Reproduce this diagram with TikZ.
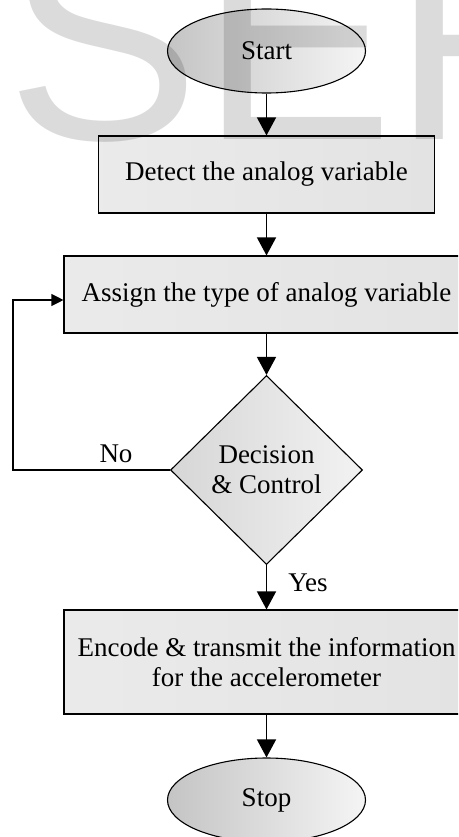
\documentclass[tikz,border=0pt]{standalone}
\usepackage{fontspec}
\setmainfont{Liberation Serif}
\newfontfamily\wmfont{Liberation Sans}
\usetikzlibrary{shapes.geometric,arrows.meta}
\tikzset{
  txt/.style={font=\fontsize{27}{30}\selectfont},
  lbl/.style={txt, inner sep=0pt},
  term/.style={txt, ellipse, draw, line width=1.1pt, minimum width=198pt, minimum height=84pt,
    inner sep=0pt, left color=black!23, right color=black!4},
  procbox/.style={txt, rectangle, draw, line width=1.1pt, inner sep=0pt, align=center,
    left color=black!8, middle color=white, right color=black!11},
  decbox/.style={txt, diamond, draw, line width=1.1pt, inner sep=0pt, align=center,
    minimum width=192pt, minimum height=189pt,
    left color=black!16, right color=black!5},
  flow/.style={line width=1.4pt, -{Triangle[width=19pt,length=18pt]}},
  loopline/.style={line width=1.1pt, -{Triangle[width=12pt,length=12pt]}},
  wm/.style={font=\wmfont\fontsize{290}{290}\selectfont, text=black, text opacity=0.14,
    anchor=base west, inner sep=0pt}
}
\begin{document}
\begin{tikzpicture}[x=1pt,y=-1pt]
\useasboundingbox (0,0) rectangle (458,837);
\clip (0,0) rectangle (458,837);
\fill[white] (0,0) rectangle (458,837);

\node[term] (start) at (266.5,51) {Start};
\node[procbox, minimum width=336pt, minimum height=77pt] (detect) at (266.5,174.5) {Detect the analog variable};
\node[procbox, minimum width=405pt, minimum height=77pt] (assign) at (266.5,294.5) {Assign the type of analog variable};
\node[decbox] (dec) at (266.5,470) {Decision\\\& Control};
\node[procbox, minimum width=405pt, minimum height=104pt] (encode) at (266.5,662) {Encode \& transmit the information\\for the accelerometer};
\node[term] (stop) at (266.5,800) {Stop};

\draw[flow] (start) -- (detect);
\draw[flow] (detect) -- (assign);
\draw[flow] (assign) -- (dec);
\draw[flow] (dec) -- (encode);
\draw[flow] (encode) -- (stop);

\coordinate (lp) at (13,470);
\draw[loopline] (dec.west) -- (lp) |- ([yshift=-5.5pt]assign.west);

\node[lbl] (no) at (116,454) {No};
\node[lbl] (yes) at (308,583) {Yes};

\node[wm] (wmS) at (6,140) {S};
\node[wm] (wmE) at (200,140) {E};
\node[wm] (wmR) at (392,140) {R};
\end{tikzpicture}
\end{document}
